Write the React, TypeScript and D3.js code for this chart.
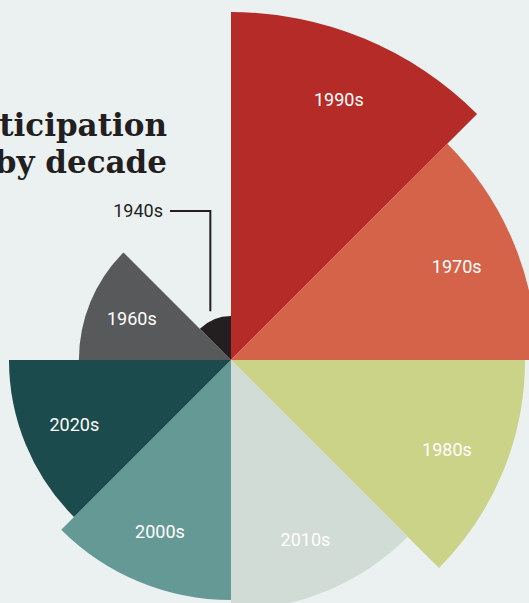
import React, { useEffect } from "react";
import * as d3 from "d3";

// sectors clockwise from 12 o'clock
const decades = ["1990s", "1970s", "1980s", "2010s", "2000s", "2020s", "1960s", "1940s"];
const values = [100, 77.3, 71.4, 51.6, 47.6, 40.7, 19.1, 1.6];
const colors = ["#b52b27", "#d4634a", "#cbd389", "#d0dcd5", "#649995", "#1c4b4d", "#58595b", "#231f20"];
const titleLines = ["Participation", "by decade"];

const W = 529;
const H = 603;
const cx = 231;
const cy = 360;

const App = () => {
  useEffect(() => {
    document.body.style.margin = "0";
    document.body.style.overflow = "hidden";
  }, []);

  const rScale = d3.scaleSqrt().domain([0, 100]).range([0, 348]);
  const aScale = d3
    .scaleBand()
    .domain(decades)
    .range([0, 2 * Math.PI]);
  const arc = d3.arc();

  const sectors = decades.map((d, i) => {
    const a0 = aScale(d);
    const a1 = a0 + aScale.bandwidth();
    const r = rScale(values[i]);
    return { d, i, a0, a1, r, mid: (a0 + a1) / 2 };
  });

  // small 1940s slice gets a leader line instead of an inside label
  const small = sectors[sectors.length - 1];
  const leadAngle = -28 * (Math.PI / 180);
  const leadX = cx + small.r * Math.sin(leadAngle);
  const leadY0 = cy - small.r * Math.cos(leadAngle) - 10;
  const leadY1 = 211;

  return (
    <svg width={W} height={H} style={{ position: "absolute", left: 0, top: 0 }}>
      <rect width={W} height={H} fill="#ebf1f1" />

      {titleLines.map((t, i) => (
        <text
          key={t}
          x={167}
          y={136 + i * 36.5}
          textAnchor="end"
          fontFamily="DejaVu Serif"
          fontWeight="bold"
          fontSize={31}
          fill="#231f20"
        >
          {t}
        </text>
      ))}

      <g transform={`translate(${cx},${cy})`}>
        {sectors.map((s) => (
          <path
            key={s.d}
            d={arc({ innerRadius: 0, outerRadius: s.r, startAngle: s.a0, endAngle: s.a1 })}
            fill={colors[s.i]}
          />
        ))}
        {sectors.slice(0, -1).map((s) => {
          const lr = 0.89 * s.r - 28;
          return (
            <text
              key={s.d}
              x={lr * Math.sin(s.mid)}
              y={-lr * Math.cos(s.mid)}
              dy="0.35em"
              textAnchor="middle"
              fontFamily="Roboto"
              fontSize={18}
              fill="#ffffff"
            >
              {s.d}
            </text>
          );
        })}
      </g>

      <path
        d={`M${leadX},${leadY0}V${leadY1}H170`}
        fill="none"
        stroke="#231f20"
        strokeWidth={2}
      />
      <text x={163} y={217} textAnchor="end" fontFamily="Roboto" fontSize={18} fill="#231f20">
        {small.d}
      </text>
    </svg>
  );
};

export default App;
